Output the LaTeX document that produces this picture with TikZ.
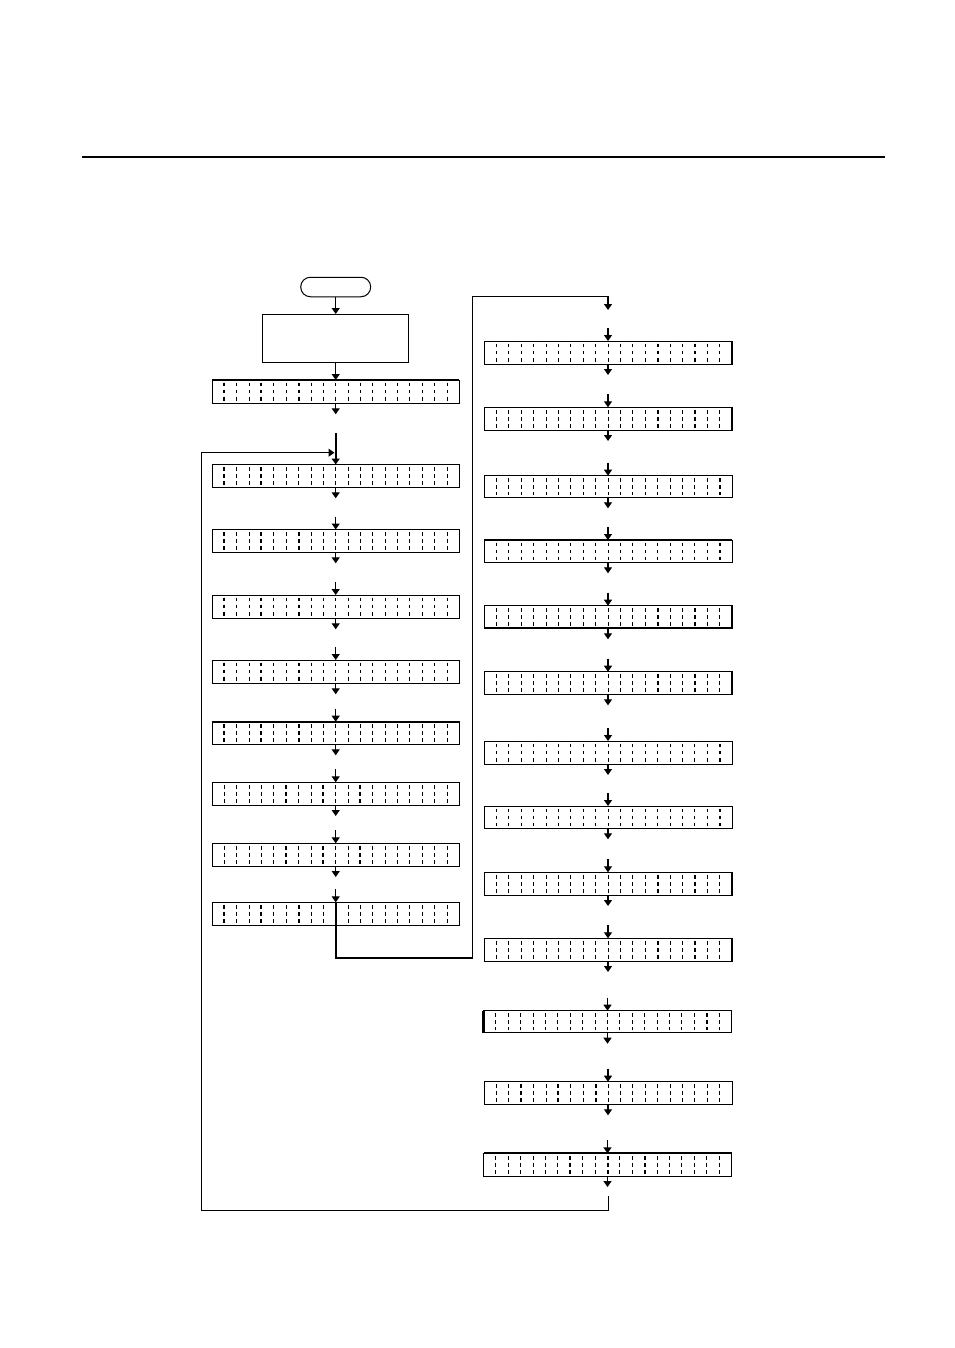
\documentclass[tikz,border=0pt]{standalone}
\usetikzlibrary{arrows.meta}
\tikzset{
  lcd/.style={draw, line width=1pt, rectangle, inner sep=0pt, outer sep=0pt},
  divider/.style={line width=0.9pt, dash pattern=on 3.8pt off 3.3pt},
  thickdiv/.style={line width=2pt, dash pattern=on 3.8pt off 3.3pt},
  arr/.style={line width=1.2pt, -{Triangle[length=6pt,width=8pt]}},
  boldarr/.style={line width=1.9pt, -{Triangle[length=6pt,width=8pt]}},
  loopline/.style={line width=1pt},
  boldline/.style={line width=1.9pt},
  edgeline/.style={line width=2.2pt},
  plainbox/.style={draw, line width=1pt, inner sep=0pt, outer sep=0pt},
}
\newcommand\lcdbox[6]{%
  \node[lcd, minimum width={(#4-#2)*1pt}, minimum height={(#5-#3)*1pt}] (#1) at ({(#2+#4)/2},{(#3+#5)/2}) {};
  \foreach \k in {1,...,19} {\draw[divider] ({#2+\k*(#4-#2)/20},{#3+2.5}) -- ({#2+\k*(#4-#2)/20},{#5-2.5});}
  \foreach \k in {#6} {\draw[thickdiv] ({#2+\k*(#4-#2)/20},{#3+2.5}) -- ({#2+\k*(#4-#2)/20},{#5-2.5});}
  \path (#1.north) ++(0,-13) coordinate (#1-in);
  \path (#1.south) ++(0,11) coordinate (#1-out);
}
\begin{document}
\begin{tikzpicture}[x=1pt,y=-1pt]
\useasboundingbox (0,0) rectangle (954,1348);
\fill[white] (0,0) rectangle (954,1348);
% top rule
\draw[line width=2.6pt] (82,157) -- (885,157);

% start and first process
\node[plainbox, rounded corners=9.7pt, minimum width=70pt, minimum height=19.5pt] (start) at (335.7,287) {};
\node[plainbox, minimum width=146pt, minimum height=48pt] (proc) at (335.7,338) {};

% left column
\lcdbox{L0}{212}{380}{459.4}{403.3}{1,4,7}
\lcdbox{L1}{212}{464.5}{459.4}{487.3}{1,4}
\lcdbox{L2}{212}{529.5}{459.4}{552.3}{1,4,7}
\lcdbox{L3}{212}{595}{459.4}{618.3}{1,4,7}
\lcdbox{L4}{212}{660}{459.4}{683.3}{1,4,7}
\lcdbox{L5}{212}{721.7}{459.4}{744.3}{1,4,7}
\lcdbox{L6}{212}{782.3}{459.4}{805}{6,9,12}
\lcdbox{L7}{212}{843.3}{459.4}{866}{6,9,12}
\lcdbox{L8}{212}{902.3}{459.4}{925}{1,4,7}

% right column
\lcdbox{R1}{484}{341}{732}{364}{14,17}
\lcdbox{R2}{484}{407.3}{732}{430}{14,17}
\lcdbox{R3}{484}{475.7}{732}{497.3}{19}
\lcdbox{R4}{484}{540}{732}{562.3}{19}
\lcdbox{R5}{484}{605.7}{732}{628.3}{14,17}
\lcdbox{R6}{484}{671.7}{732}{694.3}{14,17}
\lcdbox{R7}{484}{741}{732}{764}{19}
\lcdbox{R8}{484}{806}{732}{828.3}{19}
\lcdbox{R9}{484}{872.3}{732}{895}{14,17}
\lcdbox{R10}{484}{938.3}{732}{961}{14,17}
\lcdbox{R11}{483.5}{1010.7}{731.5}{1032.7}{18}
\lcdbox{R12}{484}{1081.7}{732}{1104.3}{3,6,9}
\lcdbox{R13}{483.5}{1153.3}{731.5}{1176}{7,10,13}

% heavier box edges
\draw[edgeline] (L0.north west) -- (L0.north east);
\draw[edgeline] (L5.north west) -- (L5.north east);
\draw[edgeline] (R4.north west) -- (R4.north east);
\draw[edgeline] (R13.north west) -- (R13.north east);
\foreach \b in {R1,R2,R5,R6,R9,R10} {\draw[edgeline] (\b.north east) -- (\b.south east);}
\draw[edgeline] (R5.south west) -- (R5.south east);
\draw[edgeline] (R11.north west) -- (R11.south west);

% coordinates
\coordinate (L1top) at (335.7,433);
\coordinate (lpE) at (334.5,452.7);
\coordinate (jA) at (335.7,958);
\coordinate (jB) at (472.5,958);
\coordinate (jC) at (472.5,296);
\coordinate (jD) at (608,296);
\coordinate (R0) at (608,310);
\coordinate (lpA) at (608,1196);
\coordinate (lpB) at (608,1210);
\coordinate (lpC) at (201,1210);
\coordinate (lpD) at (201,452.7);

% left column connectors
\draw[arr] (start) -- (proc);
\draw[arr] (proc) -- (L0);
\draw[arr] (L0) -- (L0-out);
\draw[boldarr] (L1top) -- (L1);
\foreach \a/\b in {L1/L2,L2/L3,L3/L4,L4/L5,L5/L6,L6/L7,L7/L8} {
  \draw[arr] (\a) -- (\a-out);
  \draw[arr] (\b-in) -- (\b);
}
\draw[boldline] (L8.north) -- (jA) -- (jB) -- (jC);
\draw[loopline] (jC) -- (jD);
\draw[arr] (jD) -- (R0);

% right column connectors
\foreach \b in {R1,R2,R3,R4,R5,R6,R7,R8,R9,R10,R11,R12} {
  \draw[arr] (\b-in) -- (\b);
  \draw[arr] (\b) -- (\b-out);
}
\draw[boldarr] (R13-in) -- (R13);
\draw[boldarr] (R13) -- (R13-out);

% return loop
\draw[loopline, -{Triangle[length=6pt,width=8pt]}] (lpA) -- (lpB) -- (lpC) -- (lpD) -- (lpE);
\end{tikzpicture}
\end{document}
